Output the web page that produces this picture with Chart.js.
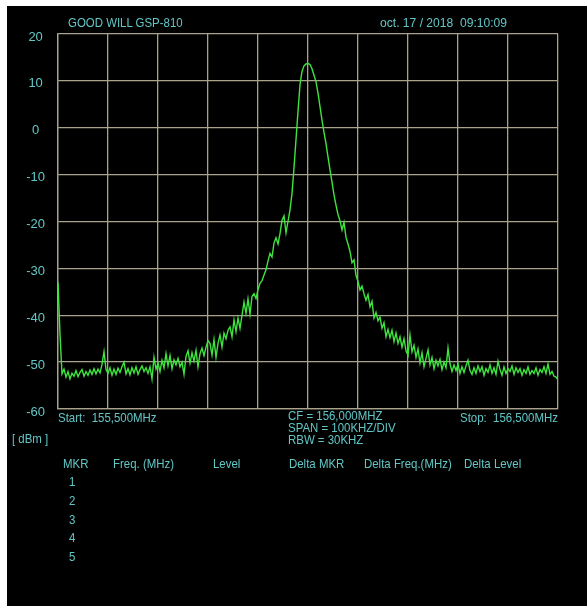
<!DOCTYPE html>
<html>
<head>
<meta charset="utf-8">
<script src="https://cdn.jsdelivr.net/npm/chart.js@4/dist/chart.umd.min.js"></script>
<style>
  html, body { margin: 0; padding: 0; background: #ffffff; }
  #wrap { position: relative; width: 587px; height: 606px; overflow: hidden; }
  #bg { position: absolute; left: 7px; top: 6px; width: 580px; height: 600px; background: #000; }
  canvas { position: absolute; left: 0; top: 0; }
  .t { position: absolute; color: #62c6c6; font-family: "Liberation Sans", Arial, sans-serif;
       font-size: 13px; line-height: 13px; white-space: pre; transform: scaleX(0.88); transform-origin: 0 0; }
</style>
</head>
<body>
<div id="wrap">
  <div id="bg"></div>
  <canvas id="c" width="587" height="606"></canvas>
  <div class="t" style="left:68px; top:16px;">GOOD WILL GSP-810</div>
  <div class="t" style="left:380px; top:16px; transform: scaleX(0.93);">oct. 17 / 2018  09:10:09</div>
  <div class="t" style="left:58px; top:411px;">Start:  155,500MHz</div>
  <div class="t" style="left:288px; top:410px; line-height:12px;">CF = 156,000MHZ
SPAN = 100KHZ/DIV
RBW = 30KHZ</div>
  <div class="t" style="left:460px; top:411px;">Stop:  156,500MHz</div>
  <div class="t" style="left:12px; top:432px;">[ dBm ]</div>
  <div class="t" style="left:63px; top:457px;">MKR</div>
  <div class="t" style="left:113px; top:457px;">Freq. (MHz)</div>
  <div class="t" style="left:213px; top:457px;">Level</div>
  <div class="t" style="left:289px; top:457px;">Delta MKR</div>
  <div class="t" style="left:364px; top:457px;">Delta Freq.(MHz)</div>
  <div class="t" style="left:464px; top:457px;">Delta Level</div>
  <div class="t" style="left:69px; top:475px;">1</div>
  <div class="t" style="left:69px; top:494px;">2</div>
  <div class="t" style="left:69px; top:513px;">3</div>
  <div class="t" style="left:69px; top:531px;">4</div>
  <div class="t" style="left:69px; top:550px;">5</div>
</div>
<script>
// Sweep settings (MHz)
const startMHz = 155.5;
const stopMHz = 156.5;
const stepMHz = 0.004;

// Y axis ticks (dBm)
const yTicks = [20, 10, 0, -10, -20, -30, -40, -50, -60];

const levels = [
  -33.0, -44.0, -52.5, -51.5, -53.2, -52.0, -53.6, -52.4, -53.0, -51.8,
  -53.1, -52.2, -51.6, -53.0, -52.0, -52.8, -51.7, -52.6, -51.4, -52.5,
  -51.5, -52.3, -50.5, -47.8, -51.6, -52.4, -51.2, -52.8, -51.5, -52.6,
  -51.3, -52.2, -51.0, -50.0, -52.5, -51.4, -52.7, -51.2, -52.3, -51.0,
  -52.6, -51.6, -50.8, -52.0, -51.2, -52.4, -51.0, -53.6, -49.0, -51.5,
  -50.2, -52.0, -49.6, -51.2, -48.2, -50.8, -48.6, -51.4, -49.5, -50.6,
  -49.2, -51.0, -50.0, -52.6, -48.8, -47.6, -50.2, -48.0, -49.8, -47.5,
  -51.0, -48.2, -47.0, -48.6, -46.8, -45.4, -46.0, -48.5, -45.2, -49.0,
  -46.0, -44.2, -46.8, -43.8, -45.0, -43.2, -42.5, -44.6, -41.0, -43.5,
  -40.6, -42.8, -40.0, -37.2, -39.6, -36.5, -39.8, -36.0, -35.4, -36.4,
  -34.5, -33.2, -32.6, -31.4, -30.3, -28.4, -26.8, -27.6, -24.6, -23.5,
  -24.8, -22.6, -19.8, -18.8, -22.4, -20.0, -17.5, -14.0, -8.5, -2.5,
  3.5, 9.2, 12.0, 13.2, 13.6, 13.7, 13.5, 12.6, 11.2, 9.8,
  7.4, 4.5, 1.6, -1.0, -3.4, -6.2, -9.0, -11.6, -14.3, -16.5,
  -18.5, -19.8, -21.8, -20.2, -23.4, -24.8, -26.4, -28.8, -28.2, -31.5,
  -32.8, -34.6, -33.8, -35.4, -36.8, -35.6, -38.2, -37.0, -40.6, -39.4,
  -41.2, -40.4, -42.8, -41.6, -44.6, -43.0, -44.8, -43.2, -45.6, -43.8,
  -46.0, -44.6, -46.8, -45.0, -47.6, -48.6, -44.2, -47.8, -46.4, -49.0,
  -47.2, -50.2, -48.0, -51.0, -49.2, -47.4, -50.6, -49.0, -51.4, -49.6,
  -50.8, -49.4, -51.6, -50.0, -51.2, -47.0, -50.4, -52.0, -50.6, -51.8,
  -50.4, -52.4, -51.0, -52.2, -50.8, -49.6, -51.8, -52.6, -51.2, -52.4,
  -50.8, -52.0, -51.0, -52.8, -51.4, -52.2, -50.6, -52.4, -51.2, -52.6,
  -49.8, -51.6, -52.8, -51.0, -52.4, -51.4, -52.0, -50.8, -52.6, -51.2,
  -52.2, -51.4, -52.8, -51.6, -52.4, -51.0, -52.6, -51.8, -52.4, -51.2,
  -52.8, -51.6, -52.2, -51.0, -52.4, -50.4, -52.6, -52.0, -53.0, -53.2,
  -53.8
];

const points = levels.map((v, i) => ({ x: startMHz + i * stepMHz, y: v }));

const gridColor = '#a8a38a';
const tickColor = '#62c6c6';

new Chart(document.getElementById('c'), {
  type: 'line',
  data: {
    datasets: [{
      data: points,
      borderColor: '#3ee43e',
      borderWidth: 1.4,
      pointRadius: 0,
      tension: 0,
      fill: false
    }]
  },
  options: {
    responsive: false,
    animation: false,
    events: [],
    layout: { padding: { left: 0, top: 34, right: 29, bottom: 197 } },
    plugins: { legend: { display: false }, tooltip: { enabled: false }, title: { display: false } },
    scales: {
      x: {
        type: 'linear',
        min: startMHz,
        max: stopMHz,
        ticks: { display: false, stepSize: 0.1 },
        grid: { color: gridColor, lineWidth: 1.3, drawTicks: false },
        border: { color: gridColor, width: 1.3 }
      },
      y: {
        min: yTicks[yTicks.length - 1],
        max: yTicks[0],
        afterFit: s => { s.width = 58; },
        afterBuildTicks: s => { s.ticks = yTicks.map(v => ({ value: v })); },
        ticks: {
          color: tickColor,
          padding: 13,
          crossAlign: 'center',
          labelOffset: 3,
          font: { family: '"Liberation Sans", Arial, sans-serif', size: 13 }
        },
        grid: { color: gridColor, lineWidth: 1.3, drawTicks: false },
        border: { color: gridColor, width: 1.3 }
      }
    }
  }
});
</script>
</body>
</html>
